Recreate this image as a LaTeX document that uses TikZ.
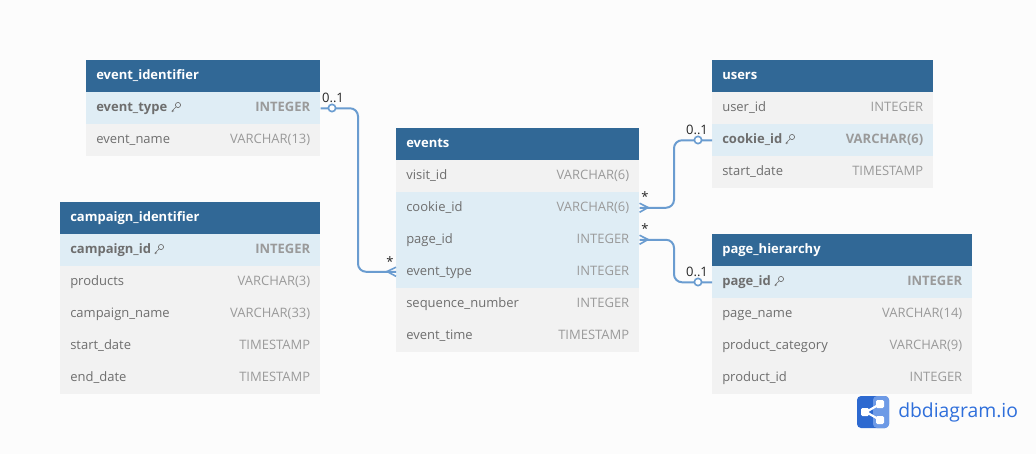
\documentclass[tikz,border=0pt]{standalone}
\usepackage{fontspec}
\setmainfont{Open Sans}
\newfontfamily\logofont{Open Sans}
\definecolor{pagebg}{HTML}{FCFCFC}
\definecolor{headblue}{HTML}{316896}
\definecolor{rowgrey}{HTML}{F2F2F2}
\definecolor{rowblue}{HTML}{DFEDF5}
\definecolor{fieldtxt}{HTML}{6E6E6E}
\definecolor{typetxt}{HTML}{9A9A9A}
\definecolor{linkblue}{HTML}{6A9CD0}
\definecolor{logoblue}{HTML}{2F6FDB}
\tikzset{
  tablecell/.style={anchor=north west, minimum height=24pt, inner xsep=7.5pt, inner ysep=0pt, text height=7.5pt, text depth=2pt, font=\fontsize{9.75}{12}\selectfont},
  headcell/.style={tablecell, fill=headblue, text=white, font=\fontsize{9.75}{12}\selectfont\bfseries, text width=#1-15pt, minimum width=#1},
  fieldcell/.style={tablecell, fill=rowgrey, text=fieldtxt, text width=#1-15pt, minimum width=#1},
  keycell/.style={tablecell, fill=rowblue, text=fieldtxt, font=\fontsize{9.75}{12}\selectfont\bfseries, text width=#1-15pt, minimum width=#1},
  typecell/.style={tablecell, anchor=east, text=typetxt},
  keytype/.style={typecell, font=\fontsize{9.75}{12}\selectfont\bfseries},
  relline/.style={draw=linkblue, line width=1.5pt, rounded corners=6pt},
  crowfoot/.style={draw=linkblue, line width=1.2pt},
  onedot/.style={circle, draw=linkblue, fill=white, line width=1.2pt, minimum size=5.5pt, inner sep=0pt},
  cardtxt/.style={text=black!85, inner sep=0pt, font=\fontsize{9.75}{12}\selectfont},
  keyicon/.pic={
    \draw[fieldtxt, line width=0.5pt] (2,-2) circle (2.6);
    \draw[fieldtxt, line width=0.5pt] (0.2,-0.2) -- (-4,4) -- (-2,4) (-3.4,3.4) -- (-3.4,5);
  }
}
\begin{document}
\begin{tikzpicture}[x=0.75pt,y=-0.75pt]
\fill[pagebg] (0,0) rectangle (1036,454);
% event_identifier
\node [headcell=175.5pt] (eihead) at (86,60) {event\_identifier};
\node [keycell=175.5pt] (eitype) at (86,92) {event\_type};
\node [fieldcell=175.5pt] (einame) at (86,124) {event\_name};
\node [keytype] (eitypet) at (eitype.east) {INTEGER};
\node [typecell] (einamet) at (einame.east) {VARCHAR(13)};
\pic at (176,107) {keyicon};
% campaign_identifier
\node [headcell=195pt] (cihead) at (60,202) {campaign\_identifier};
\node [keycell=195pt] (ciid) at (60,234) {campaign\_id};
\node [fieldcell=195pt] (ciprod) at (60,266) {products};
\node [fieldcell=195pt] (ciname) at (60,298) {campaign\_name};
\node [fieldcell=195pt] (cistart) at (60,330) {start\_date};
\node [fieldcell=195pt] (ciend) at (60,362) {end\_date};
\node [keytype] (ciidt) at (ciid.east) {INTEGER};
\node [typecell] (ciprodt) at (ciprod.east) {VARCHAR(3)};
\node [typecell] (cinamet) at (ciname.east) {VARCHAR(33)};
\node [typecell] (cistartt) at (cistart.east) {TIMESTAMP};
\node [typecell] (ciendt) at (ciend.east) {TIMESTAMP};
\pic at (159,249) {keyicon};
% events
\node [headcell=182.25pt] (evhead) at (396,127.5) {events};
\node [fieldcell=182.25pt] (evvisit) at (396,159.5) {visit\_id};
\node [fieldcell=182.25pt, fill=rowblue] (evcookie) at (396,191.5) {cookie\_id};
\node [fieldcell=182.25pt, fill=rowblue] (evpage) at (396,223.5) {page\_id};
\node [fieldcell=182.25pt, fill=rowblue] (evtype) at (396,255.5) {event\_type};
\node [fieldcell=182.25pt] (evseq) at (396,287.5) {sequence\_number};
\node [fieldcell=182.25pt] (evtime) at (396,319.5) {event\_time};
\node [typecell] (evvisitt) at (evvisit.east) {VARCHAR(6)};
\node [typecell] (evcookiet) at (evcookie.east) {VARCHAR(6)};
\node [typecell] (evpaget) at (evpage.east) {INTEGER};
\node [typecell] (evtypet) at (evtype.east) {INTEGER};
\node [typecell] (evseqt) at (evseq.east) {INTEGER};
\node [typecell] (evtimet) at (evtime.east) {TIMESTAMP};
% users
\node [headcell=165.75pt] (ushead) at (712,60) {users};
\node [fieldcell=165.75pt] (usid) at (712,92) {user\_id};
\node [keycell=165.75pt] (uscookie) at (712,124) {cookie\_id};
\node [fieldcell=165.75pt] (usstart) at (712,156) {start\_date};
\node [typecell] (usidt) at (usid.east) {INTEGER};
\node [keytype] (uscookiet) at (uscookie.east) {VARCHAR(6)};
\node [typecell] (usstartt) at (usstart.east) {TIMESTAMP};
\pic at (790,139) {keyicon};
% page_hierarchy
\node [headcell=195pt] (phhead) at (712,234) {page\_hierarchy};
\node [keycell=195pt] (phid) at (712,266) {page\_id};
\node [fieldcell=195pt] (phname) at (712,298) {page\_name};
\node [fieldcell=195pt] (phcat) at (712,330) {product\_category};
\node [fieldcell=195pt] (phprod) at (712,362) {product\_id};
\node [keytype] (phidt) at (phid.east) {INTEGER};
\node [typecell] (phnamet) at (phname.east) {VARCHAR(14)};
\node [typecell] (phcatt) at (phcat.east) {VARCHAR(9)};
\node [typecell] (phprodt) at (phprod.east) {INTEGER};
\pic at (779,281) {keyicon};
% connectors
\coordinate (bendleft) at (358,200);
\coordinate (bendup) at (674,170);
\coordinate (benddown) at (674,260);
\draw [relline] (eitype.east) -| (bendleft) |- (evtype.west);
\draw [relline] (evcookie.east) -| (bendup) |- (uscookie.west);
\draw [relline] (evpage.east) -| (benddown) |- (phid.west);
\node [onedot] (dotei) at (332,108) {};
\node [onedot] (dotus) at (698,140) {};
\node [onedot] (dotph) at (698,282) {};
% crow feet
\coordinate (footev) at (387,271.5);
\coordinate (footco) at (648,207.5);
\coordinate (footpa) at (648,239.5);
\draw [crowfoot] ([yshift=3.4pt]evtype.west) -- (footev) -- ([yshift=-3.4pt]evtype.west);
\draw [crowfoot] ([yshift=3.4pt]evcookie.east) -- (footco) -- ([yshift=-3.4pt]evcookie.east);
\draw [crowfoot] ([yshift=3.4pt]evpage.east) -- (footpa) -- ([yshift=-3.4pt]evpage.east);
% cardinality
\node [cardtxt] (cardei) at (333,98) {0..1};
\node [cardtxt] (cardus) at (697,130) {0..1};
\node [cardtxt] (cardph) at (697,272) {0..1};
\node [cardtxt] (cardev) at (390,262) {*};
\node [cardtxt] (cardco) at (645,197) {*};
\node [cardtxt] (cardpa) at (645,229) {*};
% logo
\fill [rounded corners=3pt, fill=logoblue!95!black] (857,396) rectangle (889,428);
\fill [rounded corners=3pt, fill=logoblue!70!white] (873,396) rectangle (889,428);
\draw [white, line width=1.6pt] (866,412) -- (880,404) (866,412) -- (880,420);
\fill [white, rounded corners=1pt] (861,408) rectangle (869,416);
\fill [white, rounded corners=1pt] (876,400) rectangle (884,408);
\fill [white, rounded corners=1pt] (876,416) rectangle (884,424);
\node [anchor=west, inner sep=0pt, text=logoblue, font=\logofont\fontsize{14.5}{18}\selectfont] (logotxt) at (898,412) {dbdiagram.io};
\end{tikzpicture}
\end{document}
